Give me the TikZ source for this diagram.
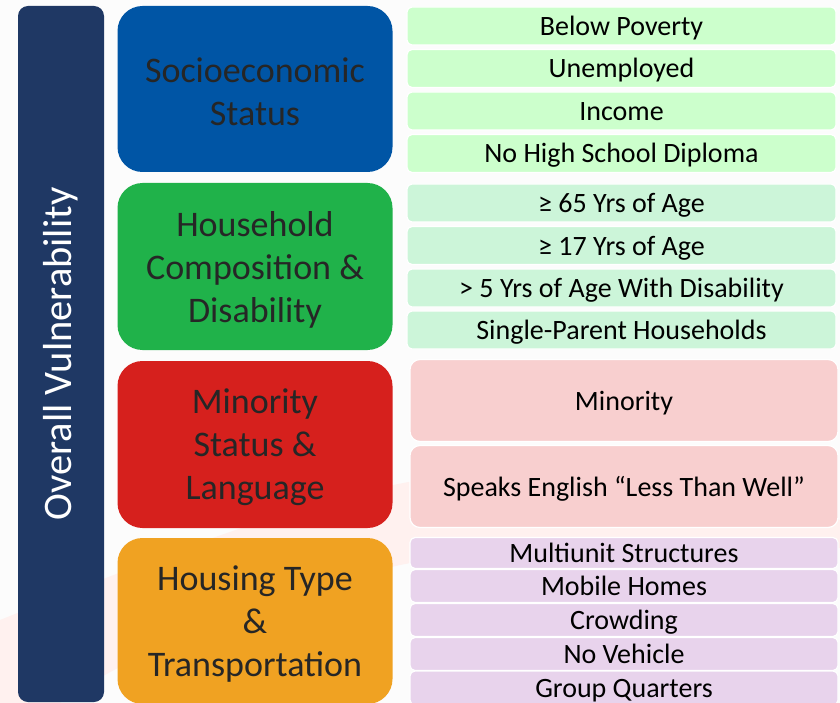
\documentclass[tikz,border=0pt]{standalone}
\usepackage{fontspec}
\setmainfont{Carlito}
\definecolor{barblue}{HTML}{1F3864}
\definecolor{sesblue}{HTML}{0055A5}
\definecolor{hhgreen}{HTML}{20B24A}
\definecolor{minred}{HTML}{D6201D}
\definecolor{houseorange}{HTML}{F0A222}
\definecolor{itemgreenA}{HTML}{CCFFCC}
\definecolor{itemgreenB}{HTML}{CCF5D9}
\definecolor{itempink}{HTML}{F8CFCF}
\definecolor{itemlilac}{HTML}{E8D3EC}
\definecolor{cattext}{HTML}{262626}
\definecolor{pagebg}{HTML}{FCFCFC}
\definecolor{bgpink}{HTML}{FFF1EF}
\tikzset{
  barbox/.style={fill=barblue, rounded corners=10pt, inner sep=0pt,
    text=white, font=\fontsize{40.5}{46}\selectfont},
  catbox/.style={rounded corners=25pt, inner sep=0pt, minimum width=275pt},
  cattitle/.style={inner sep=0pt, align=center, text=cattext,
    font=\fontsize{36}{43}\selectfont},
  itembox/.style={draw=white, line width=1.2pt, rounded corners=5pt, inner sep=0pt,
    text=black, font=\fontsize{28}{32}\selectfont,
    text height=20.5pt, text depth=1.5pt},
  greenitem/.style={itembox, minimum width=429pt},
  wideitem/.style={itembox, minimum width=428pt},
}
\begin{document}
\begin{tikzpicture}[x=1pt, y=-1pt]
  % page and faint background swoosh
  \fill[pagebg] (0,0) rectangle (840,703);
  \fill[bgpink] (0,620) .. controls (150,560) and (300,500) .. (420,480)
    .. controls (600,470) and (760,500) .. (840,520) -- (840,548)
    .. controls (700,540) and (500,545) .. (400,565)
    .. controls (250,600) and (120,660) .. (60,703) -- (0,703) -- cycle;
  \useasboundingbox (0,0) rectangle (840,703);

  % overall bar
  \node[barbox, rotate=90, minimum width=696pt, minimum height=86pt] (overall) at (61,354) {Overall Vulnerability};

  % themes
  \node[catbox, fill=sesblue, minimum height=166pt] (ses) at (255,89) {};
  \node[catbox, fill=hhgreen, minimum height=167pt] (hh) at (255,266.5) {};
  \node[catbox, fill=minred, minimum height=167pt] (min) at (255,444.5) {};
  \node[catbox, fill=houseorange, minimum height=166pt] (house) at (255,621) {};
  \node[cattitle] (ses-t) at ([yshift=-3pt]ses.center) {Socioeconomic\\Status};
  \node[cattitle] (hh-t) at ([yshift=-3.5pt]hh.center) {Household\\Composition \&\\Disability};
  \node[cattitle] (min-t) at ([yshift=-3pt]min.center) {Minority\\Status \&\\Language};
  \node[cattitle] (house-t) at ([yshift=-3pt]house.center) {Housing Type\\\&\\Transportation};

  % socioeconomic variables
  \node[greenitem, fill=itemgreenA, minimum height=38pt] (pov) at (621.5,26) {Below Poverty};
  \node[greenitem, fill=itemgreenA, minimum height=38pt] (unemp) at (621.5,68.5) {Unemployed};
  \node[greenitem, fill=itemgreenA, minimum height=38pt] (inc) at (621.5,111) {Income};
  \node[greenitem, fill=itemgreenA, minimum height=38pt] (nohs) at (621.5,153.5) {No High School Diploma};

  % household composition variables
  \node[greenitem, fill=itemgreenB, minimum height=38pt] (age65) at (621.5,203) {≥ 65 Yrs of Age};
  \node[greenitem, fill=itemgreenB, minimum height=38pt] (age17) at (621.5,245.5) {≥ 17 Yrs of Age};
  \node[greenitem, fill=itemgreenB, minimum height=38pt] (disab) at (621.5,288) {> 5 Yrs of Age With Disability};
  \node[greenitem, fill=itemgreenB, minimum height=38pt] (single) at (621.5,330) {Single-Parent Households};

  % minority variables
  \node[wideitem, fill=itempink, rounded corners=10pt, minimum height=82pt] (minority) at (624,400.5) {Minority};
  \node[wideitem, fill=itempink, rounded corners=10pt, minimum height=82pt] (english) at (624,486.5) {Speaks English “Less Than Well”};

  % housing variables
  \node[wideitem, fill=itemlilac, minimum height=31pt] (multi) at (624,553) {Multiunit Structures};
  \node[wideitem, fill=itemlilac, minimum height=33pt] (mobile) at (624,586) {Mobile Homes};
  \node[wideitem, fill=itemlilac, minimum height=33pt] (crowd) at (624,620) {Crowding};
  \node[wideitem, fill=itemlilac, minimum height=33pt] (noveh) at (624,654) {No Vehicle};
  \node[wideitem, fill=itemlilac, minimum height=34pt] (group) at (624,688) {Group Quarters};
\end{tikzpicture}
\end{document}
